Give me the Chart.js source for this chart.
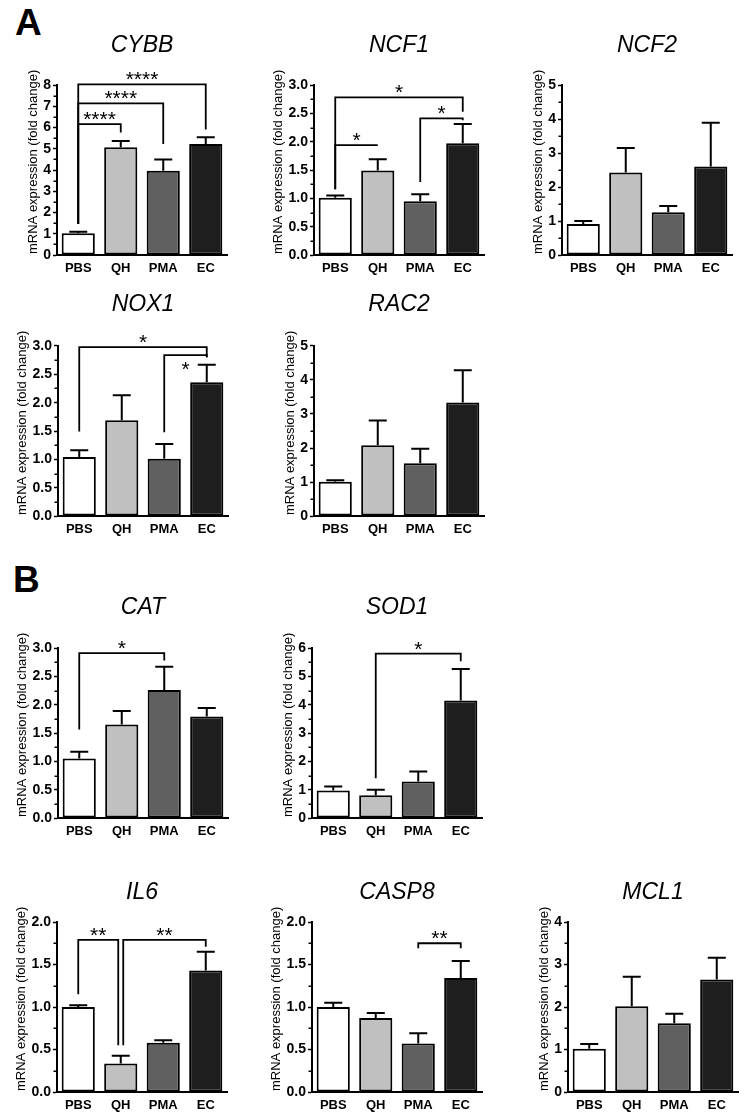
<!DOCTYPE html>
<html><head><meta charset="utf-8">
<script src="https://cdn.jsdelivr.net/npm/chart.js@4.4.0/dist/chart.umd.min.js"></script>
<style>
html,body{margin:0;padding:0;background:#fff;}
body{width:746px;height:1120px;position:relative;overflow:hidden;font-family:"Liberation Sans",Arial,sans-serif;}
canvas{position:absolute;}
.lab{position:absolute;font-weight:bold;font-size:37px;line-height:36px;color:#000;}
</style></head><body>
<div class="lab" style="left:15px;top:5px">A</div>
<div class="lab" style="left:13px;top:562px">B</div>
<script>
// ---------------- data ----------------
const categories = ['PBS', 'QH', 'PMA', 'EC'];
const genes = ['CYBB', 'NCF1', 'NCF2', 'NOX1', 'RAC2', 'CAT', 'SOD1', 'IL6', 'CASP8', 'MCL1'];
const yMaxes = [8, 3, 5, 3, 5, 3, 6, 2, 2, 4];
const ySteps = [1, 0.5, 1, 0.5, 1, 0.5, 1, 0.5, 0.5, 1];
const yDecimals = [0, 1, 0, 1, 0, 1, 0, 1, 1, 0];
const yAxisTitle = 'mRNA expression (fold change)';

const cybbMean = [1.02, 5.07, 3.97, 5.22];
const cybbErr = [0.08, 0.29, 0.53, 0.32];
const cybbSig = [[0, 1, 6.16, 1.46, 5.76, '****'], [0, 2, 7.14, 1.46, 5.22, '****'], [0, 3, 8.03, 1.46, 5.91, '****']];

const ncf1Mean = [1.01, 1.49, 0.95, 1.97];
const ncf1Err = [0.04, 0.20, 0.12, 0.34];
const ncf1Sig = [[0, 1, 1.94, 1.16, 1.94, '*'], [0, 3, 2.78, 1.16, 2.53, '*'], [2, 3, 2.41, 1.29, 2.38, '*']];

const ncf2Mean = [0.91, 2.43, 1.26, 2.60];
const ncf2Err = [0.09, 0.72, 0.18, 1.29];
const ncf2Sig = [];

const nox1Mean = [1.04, 1.69, 1.01, 2.36];
const nox1Err = [0.12, 0.44, 0.26, 0.31];
const nox1Sig = [[0, 3, 2.98, 1.49, 2.80, '*'], [2, 3, 2.84, 1.48, 2.80, '*', true]];

const rac2Mean = [1.01, 2.08, 1.55, 3.34];
const rac2Err = [0.04, 0.73, 0.43, 0.95];
const rac2Sig = [];

const catMean = [1.05, 1.65, 2.26, 1.79];
const catErr = [0.12, 0.24, 0.41, 0.15];
const catSig = [[0, 2, 2.91, 1.56, 2.78, '*']];

const sod1Mean = [0.97, 0.80, 1.29, 4.15];
const sod1Err = [0.14, 0.20, 0.35, 1.11];
const sod1Sig = [[1, 3, 5.80, 1.40, 5.53, '*']];

const il6Mean = [1.00, 0.336, 0.58, 1.43];
const il6Err = [0.02, 0.09, 0.03, 0.22];
const il6Sig = [[0, 1, 1.79, 1.15, 0.55, '**'], [1, 3, 1.79, 0.55, 1.71, '**']];

const casp8Mean = [1.00, 0.87, 0.57, 1.34];
const casp8Err = [0.05, 0.06, 0.12, 0.20];
const casp8Sig = [[2, 3, 1.75, 1.69, 1.69, '**']];

const mcl1Mean = [1.02, 2.02, 1.62, 2.65];
const mcl1Err = [0.11, 0.69, 0.22, 0.51];
const mcl1Sig = [];

const means = [cybbMean, ncf1Mean, ncf2Mean, nox1Mean, rac2Mean, catMean, sod1Mean, il6Mean, casp8Mean, mcl1Mean];
const errs = [cybbErr, ncf1Err, ncf2Err, nox1Err, rac2Err, catErr, sod1Err, il6Err, casp8Err, mcl1Err];
const sigs = [cybbSig, ncf1Sig, ncf2Sig, nox1Sig, rac2Sig, catSig, sod1Sig, il6Sig, casp8Sig, mcl1Sig];

// ---------------- layout & style ----------------
// [plot left, plot top, title middle]
const layoutPos = [[57, 85, 45.5], [314, 85, 45.5], [562, 85, 45.5],
                   [58, 346, 305], [314, 346, 305],
                   [58, 648, 608], [312, 648, 608],
                   [57, 922, 893], [312, 922, 893], [568, 922, 893]];
const barColors = ['#ffffff', '#c0c0c0', '#606060', '#1e1e1e'];
const FONT = "'Liberation Sans', Arial, sans-serif";
const PLOT = 170, YAXW = 57, XAXH = 30, RPAD = 6;

Chart.defaults.font.family = FONT;
Chart.defaults.color = '#000';

function makeAnnot(err, sig) {
  return {
    id: 'annot',
    afterDraw(chart) {
      const ctx = chart.ctx, ys = chart.scales.y, ca = chart.chartArea;
      const meta = chart.getDatasetMeta(0);
      const mean = chart.data.datasets[0].data;
      ctx.save();
      ctx.strokeStyle = '#000'; ctx.fillStyle = '#000';
      // minor ticks
      ctx.lineWidth = 1.5;
      const t = ys.ticks;
      for (let k = 0; k < t.length - 1; k++) {
        const y = Math.round(ys.getPixelForValue((t[k].value + t[k + 1].value) / 2)) + 0.25;
        ctx.beginPath(); ctx.moveTo(ca.left - 3.5, y); ctx.lineTo(ca.left, y); ctx.stroke();
      }
      // error bars (upper)
      ctx.lineWidth = 2;
      mean.forEach((m, i) => {
        const x = meta.data[i].x;
        const y0 = ys.getPixelForValue(m), y1 = ys.getPixelForValue(m + err[i]);
        ctx.beginPath();
        ctx.moveTo(x, y0); ctx.lineTo(x, y1);
        ctx.moveTo(x - 9, y1); ctx.lineTo(x + 9, y1);
        ctx.stroke();
      });
      // significance brackets
      ctx.lineWidth = 1.8; ctx.lineJoin = 'miter';
      sig.forEach((b, k) => {
        const [i, j, yl, ya, yb, lab, below] = b;
        let xa = meta.data[i].x, xb = meta.data[j].x;
        if (sig.some((o, m) => m !== k && o[0] === j)) xb -= 2.5;
        if (sig.some((o, m) => m !== k && o[1] === i)) xa += 2.5;
        const py = ys.getPixelForValue(yl);
        ctx.beginPath();
        ctx.moveTo(xa, ys.getPixelForValue(ya)); ctx.lineTo(xa, py);
        ctx.lineTo(xb, py); ctx.lineTo(xb, ys.getPixelForValue(yb));
        ctx.stroke();
        ctx.font = '21px ' + FONT; ctx.textAlign = 'center'; ctx.textBaseline = 'alphabetic';
        ctx.fillText(lab, (xa + xb) / 2, below ? py + 21 : py + 2);
      });
      // y axis title
      ctx.font = 'bold 14px ' + FONT;
      const maxW = Math.max(...t.map(tk => ctx.measureText(tk.label).width));
      const tx = ca.left - 6 - maxW - 10;
      ctx.translate(tx, ca.bottom - 1);
      ctx.rotate(-Math.PI / 2);
      ctx.font = '13px ' + FONT; ctx.textAlign = 'left'; ctx.textBaseline = 'middle';
      ctx.fillText(yAxisTitle, 0, 0);
      ctx.restore();
    }
  };
}

genes.forEach((g, p) => {
  const [x0, y0, tm] = layoutPos[p];
  const left = x0 - YAXW;
  const top = Math.floor(tm - 18);
  const titleLH = 23 * 1.2;
  const padTop = tm - titleLH / 2 - top;
  const padBot = y0 - tm - titleLH / 2;
  const cv = document.createElement('canvas');
  cv.width = YAXW + PLOT + RPAD;
  cv.height = y0 + PLOT + XAXH - top;
  cv.style.left = left + 'px';
  cv.style.top = top + 'px';
  document.body.appendChild(cv);
  const dec = yDecimals[p];
  new Chart(cv, {
    type: 'bar',
    data: {
      labels: categories,
      datasets: [{
        data: means[p],
        backgroundColor: barColors,
        borderColor: '#000',
        borderWidth: 2,
        borderSkipped: false,
        barPercentage: 0.78,
        categoryPercentage: 1.0
      }]
    },
    options: {
      responsive: false,
      animation: false,
      devicePixelRatio: 1,
      layout: { padding: { left: 0, right: RPAD, top: 0, bottom: 0 } },
      plugins: {
        legend: { display: false },
        tooltip: { enabled: false },
        title: {
          display: true, text: g, fullSize: false,
          font: { size: 23, style: 'italic', weight: 'normal', lineHeight: 1.2 },
          color: '#000',
          padding: { top: padTop, bottom: padBot }
        }
      },
      scales: {
        x: {
          grid: { display: false, drawTicks: false },
          border: { display: true, color: '#000', width: 2 },
          ticks: { font: { size: 13, weight: 'bold' }, color: '#000', padding: 6, maxRotation: 0, autoSkip: false },
          afterFit: s => { s.height = XAXH; }
        },
        y: {
          min: 0, max: yMaxes[p],
          grid: { display: true, drawOnChartArea: false, drawTicks: true, tickLength: 4, tickWidth: 1.5, tickColor: '#000', color: '#000' },
          border: { display: true, color: '#000', width: 2 },
          ticks: { stepSize: ySteps[p], font: { size: 14, weight: 'bold' }, color: '#000', padding: 2,
                   callback: v => Number(v).toFixed(dec) },
          afterFit: s => { s.width = YAXW; }
        }
      }
    },
    plugins: [makeAnnot(errs[p], sigs[p])]
  });
});
</script>
</body></html>
